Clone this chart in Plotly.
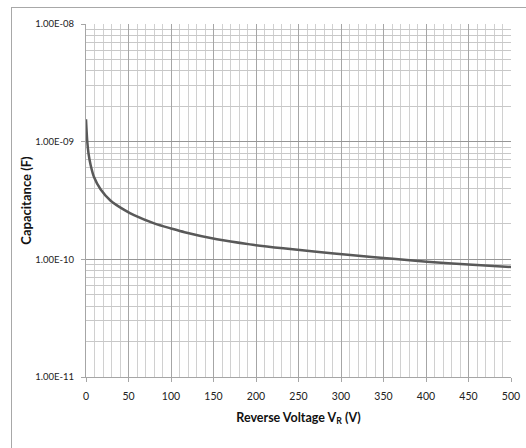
import plotly.graph_objects as go

# Data
voltage_v = [0, 1.5, 3, 5.5, 9.4, 17.3, 29, 45, 56.5, 81, 100, 116, 154, 193,
             232, 271, 311, 361, 401, 450, 500]
capacitance_f = [1.55e-9, 1.0e-9, 7.9e-10, 6.3e-10, 5.0e-10, 3.92e-10, 3.15e-10,
                 2.63e-10, 2.37e-10, 2.01e-10, 1.83e-10, 1.70e-10, 1.48e-10,
                 1.34e-10, 1.24e-10, 1.16e-10, 1.09e-10, 1.01e-10, 9.55e-11,
                 9.05e-11, 8.6e-11]

x_ticks = [0, 50, 100, 150, 200, 250, 300, 350, 400, 450, 500]
y_ticks = [1e-11, 1e-10, 1e-9, 1e-8]
y_tick_labels = ["1.00E-11", "1.00E-10", "1.00E-09", "1.00E-08"]

FONT = "Lato"

fig = go.Figure()
fig.add_trace(go.Scatter(
    x=voltage_v, y=capacitance_f, mode="lines",
    line=dict(color="#595959", width=2.5, shape="spline", smoothing=0.8),
    showlegend=False, hoverinfo="skip",
))

fig.update_layout(
    width=526, height=448,
    margin=dict(l=86, r=15, t=24, b=71, autoexpand=False),
    paper_bgcolor="white", plot_bgcolor="white",
    font=dict(family=FONT, size=10, color="#222222"),
    xaxis=dict(
        range=[0, 500], tickvals=x_ticks, ticktext=[str(v) for v in x_ticks],
        showgrid=True, gridcolor="#a6a6a6", gridwidth=1,
        minor=dict(dtick=10, showgrid=True, gridcolor="#d0d0d0", gridwidth=1),
        ticks="outside", ticklen=4, tickcolor="#a6a6a6",
        showline=True, linecolor="#a6a6a6", linewidth=1,
        zeroline=False, mirror=False, automargin=False,
        ticklabelstandoff=5,
        title=dict(text="<b>Reverse Voltage V<sub>R</sub> (V)</b>",
                   font=dict(family=FONT, size=12.5, color="#111111"),
                   standoff=12),
        tickfont=dict(family=FONT, size=10.5, color="#222222"),
    ),
    yaxis=dict(
        type="log", range=[-11, -8],
        tickvals=y_ticks, ticktext=y_tick_labels,
        showgrid=True, gridcolor="#969696", gridwidth=1,
        minor=dict(dtick="D1", showgrid=True, gridcolor="#c8c8c8", gridwidth=1),
        ticks="outside", ticklen=4, tickcolor="#a6a6a6",
        showline=True, linecolor="#a6a6a6", linewidth=1,
        zeroline=False, automargin=False,
        ticklabelstandoff=5,
        title=dict(text="<b>Capacitance (F)</b>",
                   font=dict(family=FONT, size=13, color="#111111"),
                   standoff=0),
        tickfont=dict(family=FONT, size=9.5, color="#222222"),
    ),
)

post = (
    "document.body.style.margin='0';"
    "document.body.style.overflow='hidden';"
    "var b=document.createElement('div');"
    "b.style.cssText='position:fixed;left:11px;top:7px;width:515px;height:441px;"
    "border-left:1px solid #a8a8a8;border-top:1px solid #a8a8a8;"
    "box-sizing:border-box;pointer-events:none;z-index:10;';"
    "document.body.appendChild(b);"
)

fig.write_html("out.html",
               config={"displayModeBar": False},
               post_script=post)
